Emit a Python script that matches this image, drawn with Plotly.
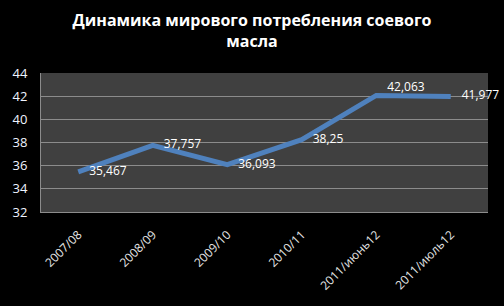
import plotly.graph_objects as go

categories = ["2007/08", "2008/09", "2009/10", "2010/11", "2011/июнь12", "2011/июль12"]
values = [35.467, 37.757, 36.093, 38.25, 42.063, 41.977]
labels = ["35,467", "37,757", "36,093", "38,25", "42,063<br> ", "41,977"]
label_pos = ["middle right"] * 6

fig = go.Figure()
fig.add_trace(go.Scatter(
    x=categories, y=values, mode="lines+markers+text",
    line=dict(color="#4F81BD", width=5),
    marker=dict(size=16, color="rgba(0,0,0,0)"),
    text=labels, textposition=label_pos,
    textfont=dict(family="Open Sans", size=12, color="#FFFFFF"),
    cliponaxis=False, hoverinfo="skip", showlegend=False,
))

fig.update_layout(
    width=504, height=306,
    margin=dict(l=41, r=16, t=73, b=94),
    paper_bgcolor="#000000", plot_bgcolor="#404040",
    title=dict(
        text="<b>Динамика мирового потребления соевого<br>масла</b>",
        x=0.5, xanchor="center", y=0.914, yanchor="top",
        font=dict(family="Open Sans", size=16, color="#FFFFFF"),
    ),
    xaxis=dict(
        type="category", range=[-0.5, 5.5], tickangle=-45,
        showgrid=False, showline=True, linecolor="#8C8C8C", linewidth=1,
        ticks="outside", ticklen=10, tickcolor="rgba(0,0,0,0)",
        tickfont=dict(family="Open Sans", size=12, color="#E6E6E6"),
    ),
    yaxis=dict(
        range=[32, 44], dtick=2, showgrid=True, gridcolor="#8C8C8C", gridwidth=1,
        showline=True, linecolor="#8C8C8C", linewidth=1, zeroline=False,
        ticks="outside", ticklen=10, tickcolor="rgba(0,0,0,0)",
        tickfont=dict(family="Open Sans", size=13, color="#F0F4FF"),
    ),
)

fig.write_html("out.html")
